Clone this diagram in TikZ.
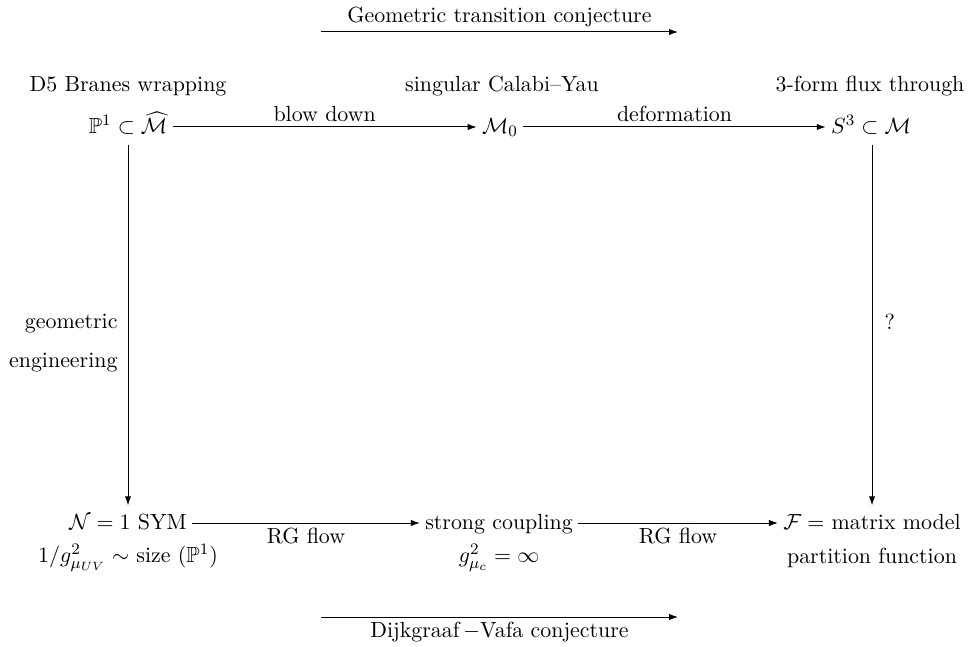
\documentclass[tikz,border=0pt,11pt]{standalone}
\usepackage{amssymb}
\usetikzlibrary{arrows.meta}
\begin{document}
\begin{tikzpicture}[x=0.5pt,y=-0.5pt,
  every node/.style={inner sep=2pt},
  obj/.style={text height=2ex,text depth=0.6ex,inner sep=2.5pt},
  arr/.style={line width=0.5pt,-{Latex[length=4.5pt,width=3.2pt]}},
  lab/.style={inner sep=2.5pt}]
\useasboundingbox (0,0) rectangle (977,646);
% top conjecture arrow
\coordinate (ta) at (321,32);
\coordinate (tb) at (678,32);
\draw[arr] (ta) -- node[lab,above] {Geometric transition conjecture} (tb);
% headers
\node (h1) at (128,86) {D5 Branes wrapping};
\node (h2) at (502,86) {singular Calabi--Yau};
\node (h3) at (870,86) {3-form flux through};
% top row
\node[obj] (P) at (128,127) {$\mathbb{P}^1\subset\widehat{\mathcal{M}}$};
\node[obj] (M0) at (500,127) {$\mathcal{M}_0$};
\node[obj] (S) at (871,127) {$S^3\subset\mathcal{M}$};
\draw[arr] (P) -- node[lab,above] {blow down} (M0);
\draw[arr] (M0) -- node[lab,above] {deformation} (S);
% bottom row
\node[obj] (N) at (128,523) {$\mathcal{N}=1$ SYM};
\node[obj] (SC) at (499,523) {strong coupling};
\node[obj] (F) at (872,523) {$\mathcal{F}=$ matrix model};
\node[inner sep=1pt] (N2) at (128,558) {$1/g^2_{\mu_{UV}}\sim$ size $(\mathbb{P}^1)$};
\node[inner sep=1pt] (SC2) at (499,558) {$g^2_{\mu_c}=\infty$};
\node[inner sep=1pt] (F2) at (872,558) {partition function};
\draw[arr] (N) -- node[lab,below] {RG flow} (SC);
\draw[arr] (SC) -- node[lab,below] {RG flow} (F);
% verticals
\draw[arr] (P.south) -- node[pos=0.55,left,align=right,inner sep=5pt] {geometric\\[6pt]engineering} (P.south |- N.north);
\draw[arr] (F.north |- S.south) -- node[pos=0.49,right,inner sep=6pt] {?} (F.north);
% bottom conjecture arrow
\coordinate (ba) at (321,617);
\coordinate (bb) at (678,617);
\draw[arr] (ba) -- node[lab,below] {Dijkgraaf\,$-$Vafa conjecture} (bb);
\end{tikzpicture}
\end{document}
